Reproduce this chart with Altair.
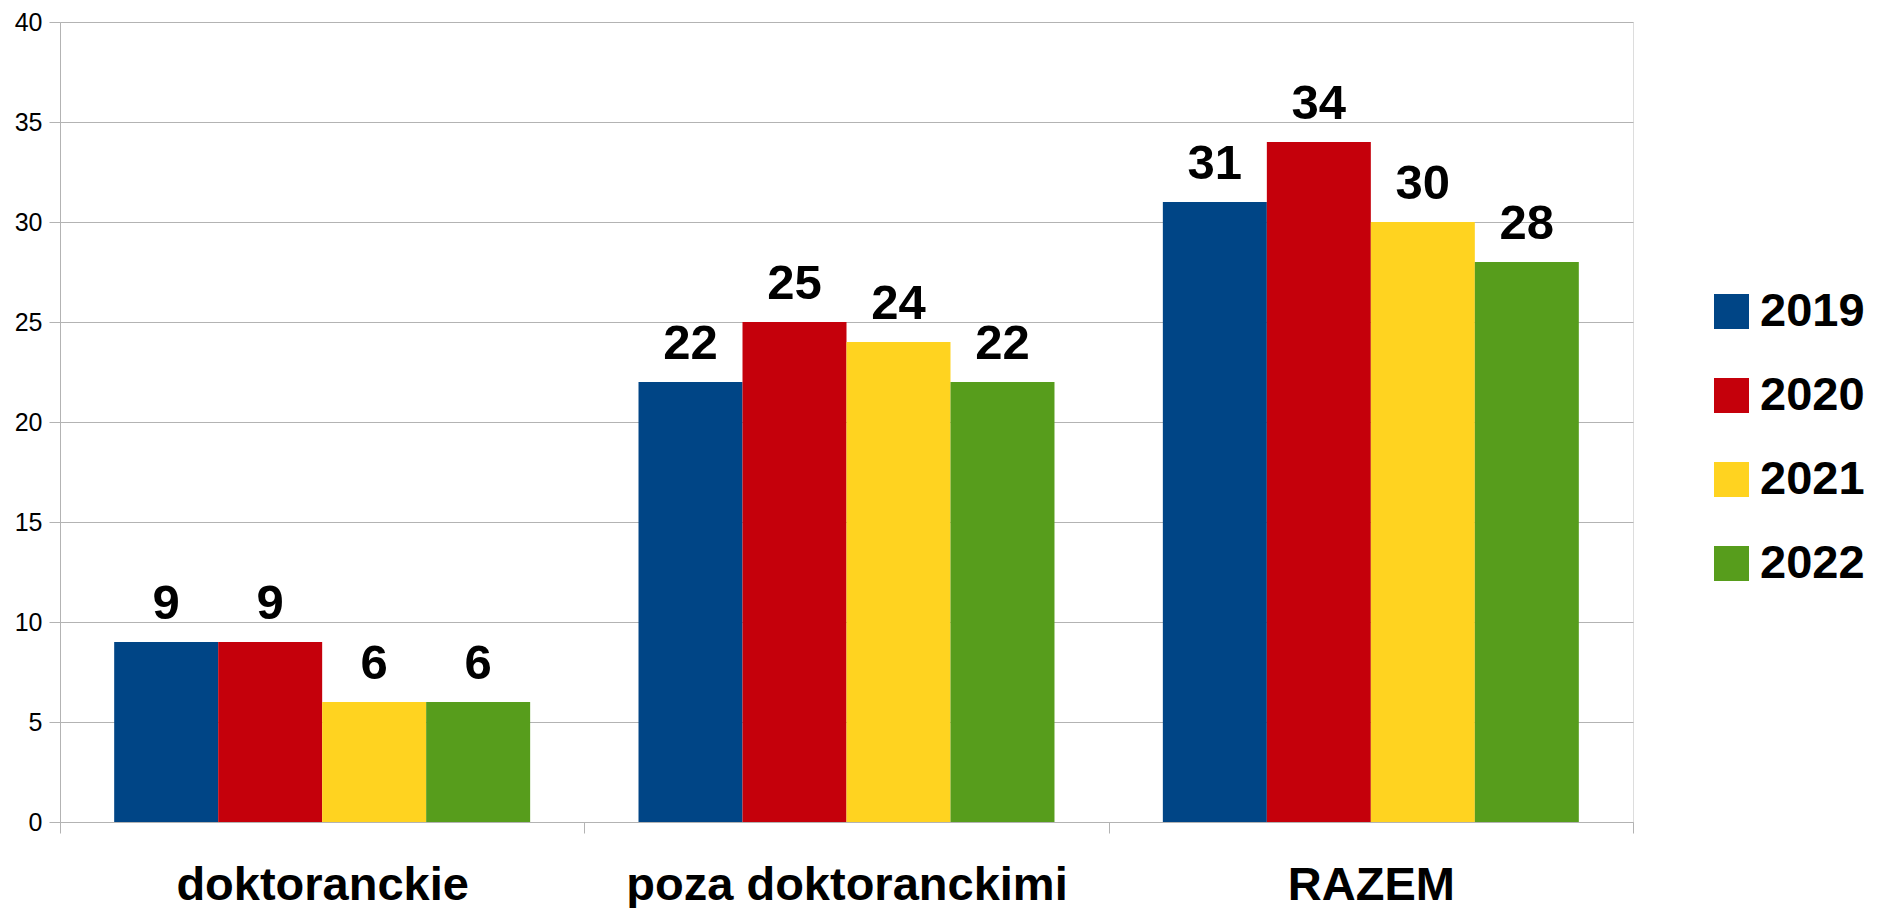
import altair as alt
import pandas as pd

categories = ["doktoranckie", "poza doktoranckimi", "RAZEM"]
years = ["2019", "2020", "2021", "2022"]
v2019 = [9, 22, 31]
v2020 = [9, 25, 34]
v2021 = [6, 24, 30]
v2022 = [6, 22, 28]
colors = ["#004586", "#C5000B", "#FFD320", "#579D1C"]
y_ticks = [0, 5, 10, 15, 20, 25, 30, 35, 40]

series = {"2019": v2019, "2020": v2020, "2021": v2021, "2022": v2022}
rows = []
for yr in years:
    for cat, val in zip(categories, series[yr]):
        rows.append({"category": cat, "year": yr, "value": val})
df = pd.DataFrame(rows)

GRID = "#b3b3b3"
FONT = "Liberation Sans"

base = alt.Chart(df).encode(
    x=alt.X(
        "category:N",
        sort=categories,
        title=None,
        scale=alt.Scale(paddingInner=0, paddingOuter=0),
        axis=alt.Axis(
            labelAngle=0,
            tickBand="extent",
            tickSize=11,
            tickColor=GRID,
            domainColor=GRID,
            labelFont=FONT,
            labelFontWeight="bold",
            labelFontSize=47,
            labelColor="#000000",
            labelBaseline="alphabetic",
            labelPadding=66,
            labelLimit=0,
            grid=False,
        ),
    ),
    xOffset=alt.XOffset(
        "year:N",
        sort=years,
        scale=alt.Scale(paddingInner=0, paddingOuter=0.521),
    ),
    y=alt.Y(
        "value:Q",
        title=None,
        scale=alt.Scale(domain=[0, 40], nice=False),
        axis=alt.Axis(
            values=y_ticks,
            tickSize=11,
            tickColor=GRID,
            domainColor=GRID,
            gridColor=GRID,
            labelFont="Liberation Sans",
            labelFontSize=25,
            labelColor="#000000",
            labelPadding=7,
        ),
    ),
)

bars = base.mark_bar(strokeWidth=0).encode(
    color=alt.Color(
        "year:N",
        sort=years,
        title=None,
        scale=alt.Scale(domain=years, range=colors),
        legend=alt.Legend(
            orient="none",
            legendX=1648,
            legendY=266,
            symbolType="square",
            symbolSize=1225,
            symbolStrokeWidth=0,
            symbolOpacity=1,
            labelFont=FONT,
            labelFontWeight="bold",
            labelFontSize=47,
            labelColor="#000000",
            labelOffset=5,
            labelLimit=0,
            rowPadding=36,
            padding=0,
        ),
    )
)

labels = base.mark_text(
    dy=-23,
    baseline="alphabetic",
    font=FONT,
    fontWeight="bold",
    fontSize=49,
    color="#000000",
).encode(text="value:Q")

chart = (
    alt.layer(bars, labels)
    .properties(
        width=1573,
        height=800,
        autosize=alt.AutoSizeParams(type="none"),
        padding={"left": 52, "top": 14, "right": 237, "bottom": 86},
    )
    .configure_view(stroke=GRID, strokeWidth=1)
    .configure(background="#ffffff")
)

chart.save("out.html", embed_options={"renderer": "svg", "actions": False})
